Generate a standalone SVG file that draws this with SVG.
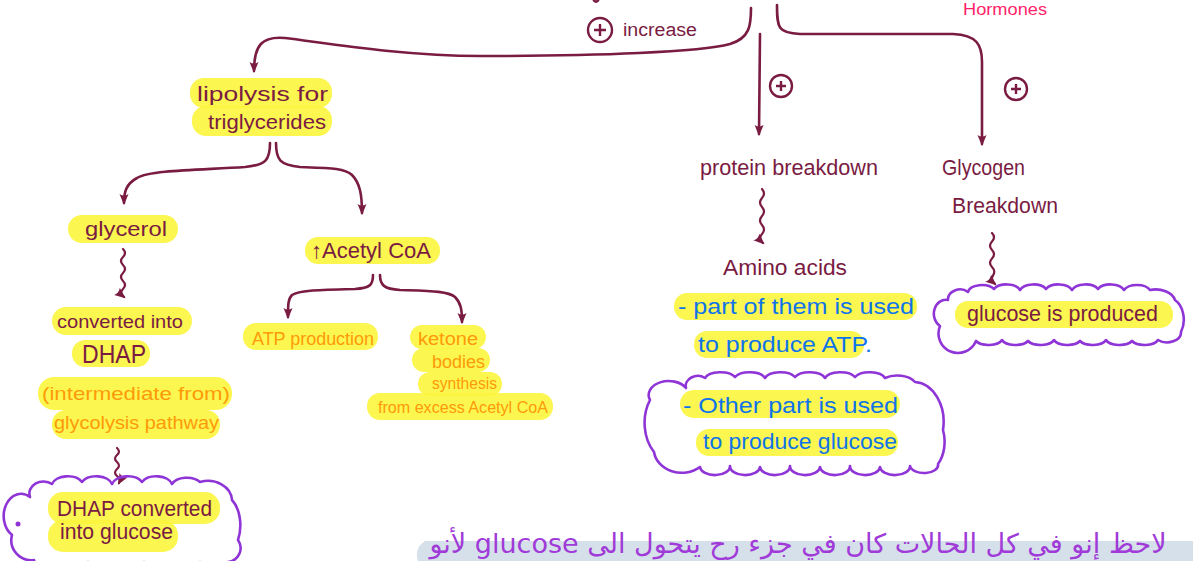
<svg xmlns="http://www.w3.org/2000/svg" width="1193" height="561" viewBox="0 0 1193 561">
<defs>
<style>
text{font-family:"Liberation Sans","DejaVu Sans",sans-serif;}
.m{fill:#7a1b42;}
.o{fill:#ff9a08;}
.b{fill:#0f74ea;}
.pk{fill:#ff1f6b;}
.hl{fill:#fbf53d;opacity:.9;}
.ln{fill:none;stroke:#7a1b42;stroke-width:2.6;stroke-linecap:round;stroke-linejoin:round;}
.sq{fill:none;stroke:#7a1b42;stroke-width:2.2;stroke-linecap:round;}
.cl{fill:none;stroke:#8f34d6;stroke-width:2.6;stroke-linejoin:round;}
.pc{fill:none;stroke:#7a1b42;stroke-width:2.4;}
</style>
<marker id="ah" viewBox="0 0 12 12" refX="9" refY="6" markerWidth="12" markerHeight="12" markerUnits="userSpaceOnUse" orient="auto">
<path d="M0,1.5 L11,6 L0,10.5 Q3,6 0,1.5 z" fill="#7a1b42"/>
</marker>
</defs>
<rect width="1193" height="561" fill="#ffffff"/>

<g id="connectors">
<path class="ln" d="M594,0.5 Q596,3 598,0.5"/>
<path class="ln" marker-end="url(#ah)" d="M751,8 C751,25 750,38 730,44 C700,52 600,56 480,56 C400,56 320,42 285,38 C262,36 254,45 254,71"/>
<path class="ln" marker-end="url(#ah)" d="M760,34 L759,134"/>
<path class="ln" marker-end="url(#ah)" d="M777,5 C777,28 778,33 800,34 L953,34 C977,35 982,45 982,62 L982,144"/>
<path class="ln" marker-end="url(#ah)" d="M270,143 C270,160 266,165 245,167 C200,170 150,170 137,178 C126,184 124,192 124,203"/>
<path class="ln" marker-end="url(#ah)" d="M276,143 C276,160 280,165 300,167 C330,168 345,168 352,175 C360,183 362,195 362,213"/>
<path class="ln" marker-end="url(#ah)" d="M373,275 C373,285 370,288 355,289 C320,290 300,290 292,295 C288,299 288,305 288,317"/>
<path class="ln" marker-end="url(#ah)" d="M380,275 C380,285 384,289 400,290 C430,291 448,291 455,297 C461,303 462,310 462,322"/>
<path class="sq" marker-end="url(#ah)" d="M123,249 q4,4 0,8 t0,8 t0,8 t0,8 t0,8 t1,8"/>
<path class="sq" marker-end="url(#ah)" d="M117,448 q4,3.5 0,7 t0,7 t0,7 t0,7 t2,7"/>
<path class="sq" marker-end="url(#ah)" d="M762,189 q4,4.5 0,9 t0,9 t0,9 t0,9 t0,9 t1,9"/>
<path class="sq" marker-end="url(#ah)" d="M992,233 q4,4.2 0,8.5 t0,8.5 t0,8.5 t0,8.5 t1,8.5 t2,8.5"/>
</g>

<g id="increase-label">
<circle class="pc" cx="600" cy="30" r="12"/>
<path class="pc" d="M594,30 L606,30 M600,24 L600,36"/>
<text class="m" x="623" y="36" font-size="18" textLength="74" lengthAdjust="spacingAndGlyphs">increase</text>
</g>
<g id="plus-protein">
<circle class="pc" cx="781" cy="86" r="11"/>
<path class="pc" d="M776,86 L786,86 M781,81 L781,91"/>
</g>
<g id="plus-glycogen">
<circle class="pc" cx="1016" cy="89" r="11"/>
<path class="pc" d="M1011,89 L1021,89 M1016,84 L1016,94"/>
</g>
<g id="hormones">
<text class="pk" x="963" y="15" font-size="17" textLength="84" lengthAdjust="spacingAndGlyphs">Hormones</text>
</g>

<g id="lipolysis">
<rect class="hl" x="190" y="78" width="142" height="30" rx="14"/>
<rect class="hl" x="192" y="106" width="140" height="30" rx="14"/>
<text class="m" x="197" y="101" font-size="21" textLength="131" lengthAdjust="spacingAndGlyphs">lipolysis for</text>
<text class="m" x="208" y="129" font-size="21" textLength="118" lengthAdjust="spacingAndGlyphs">triglycerides</text>
</g>

<g id="glycerol">
<rect class="hl" x="68" y="215" width="110" height="28" rx="14"/>
<text class="m" x="85" y="236" font-size="21" textLength="82" lengthAdjust="spacingAndGlyphs">glycerol</text>
</g>

<g id="dhap">
<rect class="hl" x="52" y="307" width="140" height="28" rx="14"/>
<rect class="hl" x="72" y="340" width="78" height="27" rx="13"/>
<rect class="hl" x="38" y="377" width="194" height="33" rx="16"/>
<rect class="hl" x="52" y="410" width="168" height="29" rx="14"/>
<text class="m" x="57" y="328" font-size="19" textLength="126" lengthAdjust="spacingAndGlyphs">converted into</text>
<text class="m" x="82" y="363" font-size="25" textLength="64" lengthAdjust="spacingAndGlyphs">DHAP</text>
<text class="o" x="42" y="400" font-size="19" textLength="188" lengthAdjust="spacingAndGlyphs">(intermediate from)</text>
<text class="o" x="54" y="429" font-size="19" textLength="165" lengthAdjust="spacingAndGlyphs">glycolysis pathway</text>
</g>

<g id="dhap-glucose">
<path class="cl" d="M30,497 A14 12 0 0 1 52,484 A16 10 0 0 1 82,482 A16 10 0 0 1 112,484 A16 10 0 0 1 142,482 A16 10 0 0 1 172,484 A16 10 0 0 1 200,482 A24 20 0 0 1 232,500 A18 30 0 0 1 238,540 A14 14 0 0 1 228,562 A14 8 0 0 1 200,562 A14 8 0 0 1 172,563 A14 8 0 0 1 144,562 A14 8 0 0 1 116,563 A14 8 0 0 1 88,562 A14 8 0 0 1 60,563 A14 8 0 0 1 34,560 A20 20 0 0 1 12,535 A14 18 0 0 1 30,497 Z"/>
<circle cx="18" cy="524" r="2.5" fill="#8f34d6"/>
<rect class="hl" x="48" y="492" width="172" height="32" rx="15"/>
<rect class="hl" x="48" y="520" width="130" height="32" rx="15"/>
<text class="m" x="57" y="516" font-size="22" textLength="155" lengthAdjust="spacingAndGlyphs">DHAP converted</text>
<text class="m" x="60" y="539" font-size="22" textLength="113" lengthAdjust="spacingAndGlyphs">into glucose</text>
</g>

<g id="acetyl-coa">
<rect class="hl" x="305" y="237" width="135" height="27" rx="13"/>
<text class="m" x="311" y="258" font-size="22" textLength="120" lengthAdjust="spacingAndGlyphs">↑Acetyl CoA</text>
</g>

<g id="atp-production">
<rect class="hl" x="243" y="323" width="135" height="27" rx="13"/>
<text class="o" x="252" y="345" font-size="18" textLength="122" lengthAdjust="spacingAndGlyphs">ATP production</text>
</g>

<g id="ketone-bodies">
<rect class="hl" x="410" y="325" width="76" height="24" rx="12"/>
<rect class="hl" x="412" y="348" width="78" height="24" rx="12"/>
<rect class="hl" x="418" y="372" width="84" height="24" rx="12"/>
<rect class="hl" x="367" y="393" width="186" height="27" rx="13"/>
<text class="o" x="418" y="345" font-size="18" textLength="60" lengthAdjust="spacingAndGlyphs">ketone</text>
<text class="o" x="432" y="368" font-size="18" textLength="53" lengthAdjust="spacingAndGlyphs">bodies</text>
<text class="o" x="432" y="389" font-size="17" textLength="65" lengthAdjust="spacingAndGlyphs">synthesis</text>
<text class="o" x="378" y="413" font-size="17" textLength="170" lengthAdjust="spacingAndGlyphs">from excess Acetyl CoA</text>
</g>

<g id="protein-breakdown">
<text class="m" x="700" y="175" font-size="22" textLength="178" lengthAdjust="spacingAndGlyphs">protein breakdown</text>
</g>

<g id="amino-acids">
<text class="m" x="723" y="275" font-size="22" textLength="124" lengthAdjust="spacingAndGlyphs">Amino acids</text>
<rect class="hl" x="674" y="293" width="243" height="27" rx="13"/>
<rect class="hl" x="694" y="331" width="170" height="27" rx="13"/>
<text class="b" x="678" y="314" font-size="22" textLength="236" lengthAdjust="spacingAndGlyphs">- part of them is used</text>
<text class="b" x="698" y="352" font-size="22" textLength="174" lengthAdjust="spacingAndGlyphs">to produce ATP.</text>
</g>

<g id="other-part">
<path class="cl" d="M686,388 A12 10 0 0 1 705,378 A16 8 0 0 1 735,377 A16 8 0 0 1 765,378 A16 8 0 0 1 795,377 A16 8 0 0 1 825,378 A16 8 0 0 1 855,377 A16 8 0 0 1 885,378 A20 12 0 0 1 915,382 A30 40 0 0 1 943,430 A20 30 0 0 1 938,464 A14 8 0 0 1 910,466 A14 8 0 0 1 880,467 A14 8 0 0 1 850,466 A14 8 0 0 1 820,467 A14 8 0 0 1 790,466 A14 8 0 0 1 760,467 A14 8 0 0 1 730,466 A14 8 0 0 1 700,467 A28 24 0 0 1 654,452 A30 40 0 0 1 650,400 A20 14 0 0 1 686,388 Z"/>
<rect class="hl" x="680" y="390" width="220" height="28" rx="14"/>
<rect class="hl" x="696" y="429" width="202" height="27" rx="13"/>
<text class="b" x="683" y="413" font-size="22" textLength="215" lengthAdjust="spacingAndGlyphs">- Other part is used</text>
<text class="b" x="703" y="449" font-size="22" textLength="194" lengthAdjust="spacingAndGlyphs">to produce glucose</text>
</g>

<g id="glycogen-breakdown">
<text class="m" x="942" y="175" font-size="22" textLength="83" lengthAdjust="spacingAndGlyphs">Glycogen</text>
<text class="m" x="952" y="213" font-size="22" textLength="106" lengthAdjust="spacingAndGlyphs">Breakdown</text>
</g>

<g id="glucose-produced">
<path class="cl" d="M948,300 A12 10 0 0 1 968,292 A14 8 0 0 1 994,289 A14 8 0 0 1 1020,290 A14 8 0 0 1 1046,289 A14 8 0 0 1 1072,290 A14 8 0 0 1 1098,289 A14 8 0 0 1 1124,290 A14 8 0 0 1 1150,290 A20 14 0 0 1 1175,300 A16 22 0 0 1 1181,332 A14 10 0 0 1 1158,340 A14 7 0 0 1 1132,341 A14 7 0 0 1 1106,340 A14 7 0 0 1 1080,341 A14 7 0 0 1 1054,340 A14 7 0 0 1 1028,341 A14 7 0 0 1 1002,340 A14 7 0 0 1 976,341 A16 16 0 0 1 940,326 A12 14 0 0 1 948,300 Z"/>
<rect class="hl" x="955" y="301" width="218" height="27" rx="13"/>
<text class="m" x="967" y="321" font-size="22" textLength="191" lengthAdjust="spacingAndGlyphs">glucose is produced</text>
</g>

<g id="note">
<path d="M425,541 L1193,541 L1193,561 L418,561 Q414,548 425,541 Z" fill="#d6e0ea"/>
<text x="798" y="553" font-size="27" text-anchor="middle" fill="#a03ad8" style="font-family:'DejaVu Sans',sans-serif" direction="rtl">لاحظ إنو في كل الحالات كان في جزء رح يتحول الى glucose لأنو</text>
</g>
</svg>
